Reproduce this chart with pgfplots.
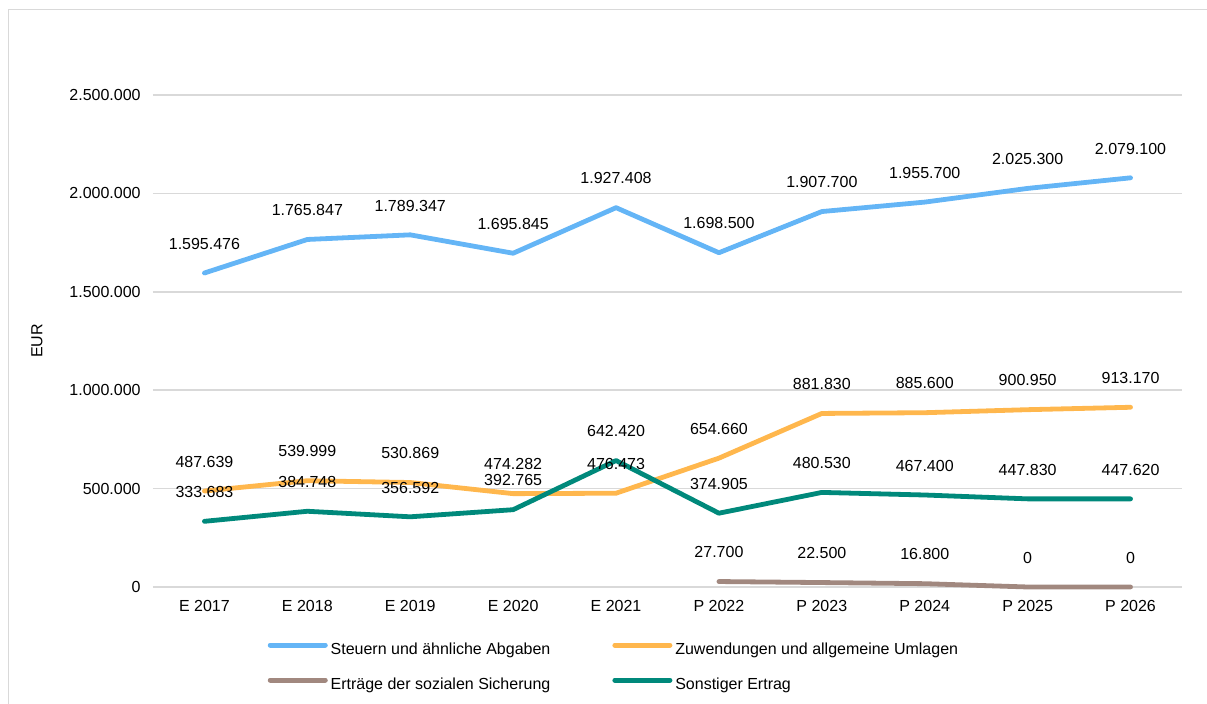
\documentclass[border=0pt]{standalone}
\usepackage{pgfplots}
\pgfplotsset{compat=1.18}
\usepackage{pgfplotstable}
\usepackage{fontspec}
\setmainfont{Liberation Sans}

\definecolor{steuern}{HTML}{64B5F6}
\definecolor{zuwend}{HTML}{FFB74D}
\definecolor{sozial}{HTML}{A1887F}
\definecolor{sonst}{HTML}{00897B}
\definecolor{gridgray}{HTML}{D9D9D9}

\newcommand{\chartfont}{\fontsize{8}{9.6}\selectfont}

% x: 0 = E 2017 ... 9 = P 2026
\pgfplotstableread{
x y label
0 1595476 1.595.476
1 1765847 1.765.847
2 1789347 1.789.347
3 1695845 1.695.845
4 1927408 1.927.408
5 1698500 1.698.500
6 1907700 1.907.700
7 1955700 1.955.700
8 2025300 2.025.300
9 2079100 2.079.100
}\steuerntab

\pgfplotstableread{
x y label
0 487639 487.639
1 539999 539.999
2 530869 530.869
3 474282 474.282
4 476473 476.473
5 654660 654.660
6 881830 881.830
7 885600 885.600
8 900950 900.950
9 913170 913.170
}\zuwendtab

\pgfplotstableread{
x y label
5 27700 27.700
6 22500 22.500
7 16800 16.800
8 0 0
9 0 0
}\sozialtab

\pgfplotstableread{
x y label
0 333683 333.683
1 384748 384.748
2 356592 356.592
3 392765 392.765
4 642420 642.420
5 374905 374.905
6 480530 480.530
7 467400 467.400
8 447830 447.830
9 447620 447.620
}\sonsttab

\begin{document}
\begin{tikzpicture}
\path[use as bounding box] (-76.5pt,-58.5pt) rectangle (527pt,293.5pt);
\draw[gridgray, line width=0.75pt] (-72.25pt,-80pt) -- (-72.25pt,288.75pt) -- (560pt,288.75pt);
\begin{axis}[
  at={(0,0)}, anchor=south west,
  scale only axis, width=514.5pt, height=246pt,
  xmin=-0.5, xmax=9.5, ymin=0, ymax=2500000,
  clip=false,
  xtick={0,...,9},
  xticklabels={E 2017,E 2018,E 2019,E 2020,E 2021,P 2022,P 2023,P 2024,P 2025,P 2026},
  ytick={0,500000,1000000,1500000,2000000,2500000},
  yticklabels={0,500.000,1.000.000,1.500.000,2.000.000,2.500.000},
  scaled y ticks=false,
  axis line style={draw=none},
  major tick length=0pt,
  ymajorgrids,
  grid style={gridgray, line width=0.75pt},
  ticklabel style={font=\chartfont, text=black},
  xticklabel style={anchor=north, inner sep=0pt, yshift=-6.7pt},
  yticklabel style={anchor=east, inner sep=0pt, xshift=-6pt},
  ylabel={EUR},
  ylabel style={at={(axis description cs:-0.1127,0.5)}, anchor=center, font=\chartfont},
  every node near coord/.style={anchor=south, inner sep=0pt, yshift=10.6pt, font=\chartfont, text=black},
  legend columns=2,
  legend cell align=left,
  legend style={at={(axis description cs:0.447,-0.1645)}, anchor=center,
    draw=none, fill=none, font=\chartfont,
    /tikz/every even column/.append style={column sep=31pt},
    nodes={inner sep=0pt, text height=5.8pt, text depth=1.7pt},
    row sep=9.6pt},
  legend image code/.code={
    \draw[line width=2.5pt, line cap=round] (0pt,2.9pt) -- (27.5pt,2.9pt);
    \path (29pt,2.9pt);
  },
  every axis plot/.append style={line width=2.4pt, line cap=round, line join=round},
]
\addplot[steuern] table[x=x, y=y] {\steuerntab};
\addlegendentry{Steuern und ähnliche Abgaben}
\addplot[zuwend] table[x=x, y=y] {\zuwendtab};
\addlegendentry{Zuwendungen und allgemeine Umlagen}
\addplot[sozial] table[x=x, y=y] {\sozialtab};
\addlegendentry{Erträge der sozialen Sicherung}
\addplot[sonst] table[x=x, y=y] {\sonsttab};
\addlegendentry{Sonstiger Ertrag}

% data labels on top of all lines
\addplot[draw=none, forget plot, nodes near coords, point meta=explicit symbolic] table[x=x, y=y, meta=label] {\steuerntab};
\addplot[draw=none, forget plot, nodes near coords, point meta=explicit symbolic] table[x=x, y=y, meta=label] {\zuwendtab};
\addplot[draw=none, forget plot, nodes near coords, point meta=explicit symbolic] table[x=x, y=y, meta=label] {\sozialtab};
\addplot[draw=none, forget plot, nodes near coords, point meta=explicit symbolic] table[x=x, y=y, meta=label] {\sonsttab};
\end{axis}
\end{tikzpicture}
\end{document}
